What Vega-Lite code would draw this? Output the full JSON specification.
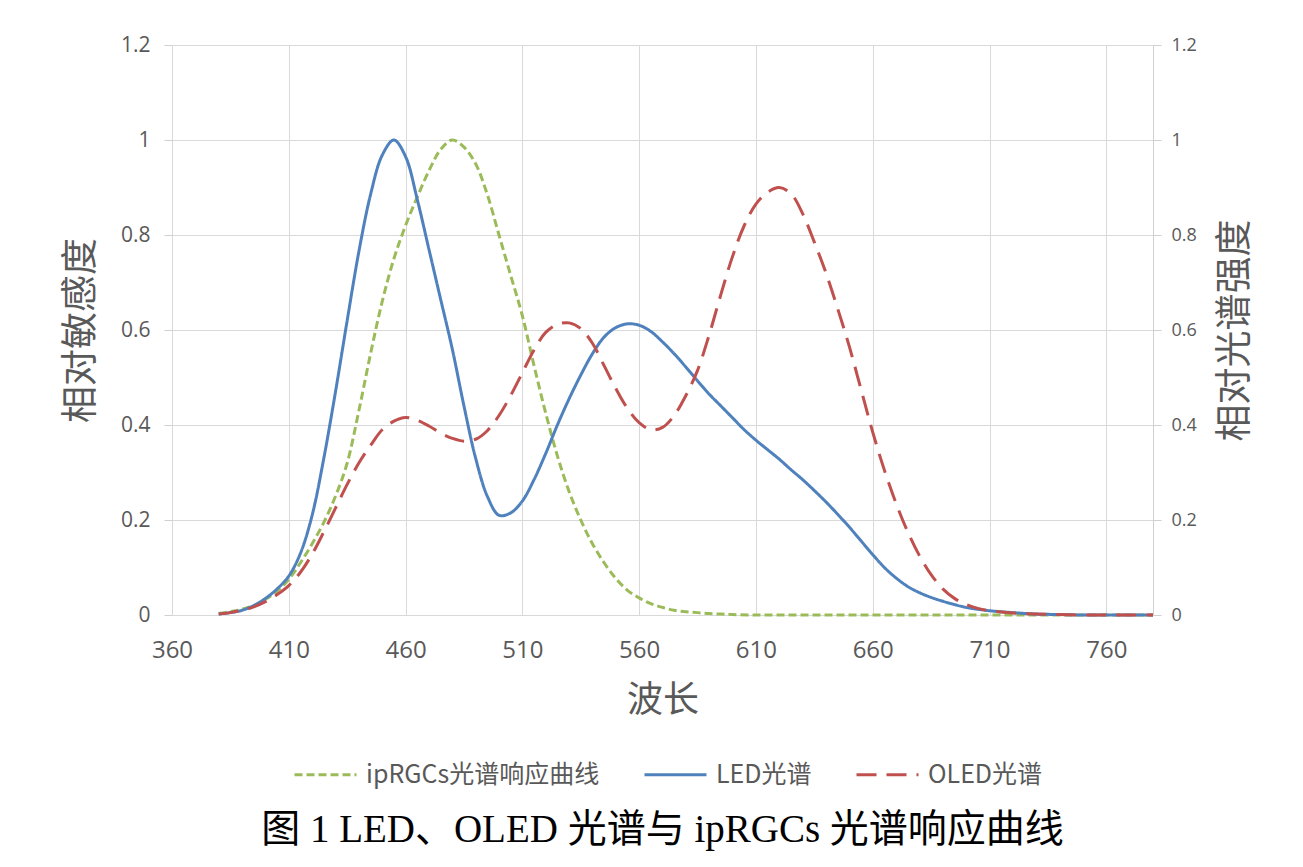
{
  "$schema": "https://vega.github.io/schema/vega-lite/v6.json",
  "width": 981,
  "height": 570,
  "autosize": {"type": "none"},
  "padding": {"left": 172, "top": 45, "right": 150, "bottom": 252},
  "background": "white",
  "config": {
    "view": {"stroke": null},
    "axis": {"labelColor": "#595959", "titleColor": "#595959", "gridColor": "#d9d9d9", "gridWidth": 1, "tickColor": "#d0d0d0", "domainColor": "#d0d0d0", "labelFont": "Open Sans", "titleFont": "Noto Sans CJK SC", "titleFontWeight": "normal", "labelFlush": false, "labelOverlap": false},
    "legend": {"labelFont": "Noto Sans CJK SC", "labelColor": "#595959"}
  },
  "title": {
    "text": "图 1 LED、OLED 光谱与 ipRGCs 光谱响应曲线",
    "orient": "bottom",
    "anchor": "middle",
    "font": "Liberation Serif, Noto Sans CJK SC",
    "fontSize": 39,
    "fontWeight": "normal",
    "color": "#000000",
    "offset": 23
  },
  "data": {"values": [
    {"wl":380,"s":"ipRGCs光谱响应曲线","v":0.003},{"wl":385,"s":"ipRGCs光谱响应曲线","v":0.007},{"wl":390,"s":"ipRGCs光谱响应曲线","v":0.012},{"wl":395,"s":"ipRGCs光谱响应曲线","v":0.02},{"wl":400,"s":"ipRGCs光谱响应曲线","v":0.033},{"wl":405,"s":"ipRGCs光谱响应曲线","v":0.05},{"wl":410,"s":"ipRGCs光谱响应曲线","v":0.075},{"wl":415,"s":"ipRGCs光谱响应曲线","v":0.11},{"wl":420,"s":"ipRGCs光谱响应曲线","v":0.15},{"wl":425,"s":"ipRGCs光谱响应曲线","v":0.195},{"wl":430,"s":"ipRGCs光谱响应曲线","v":0.25},{"wl":435,"s":"ipRGCs光谱响应曲线","v":0.32},{"wl":440,"s":"ipRGCs光谱响应曲线","v":0.43},{"wl":445,"s":"ipRGCs光谱响应曲线","v":0.55},{"wl":450,"s":"ipRGCs光谱响应曲线","v":0.66},{"wl":455,"s":"ipRGCs光谱响应曲线","v":0.75},{"wl":460,"s":"ipRGCs光谱响应曲线","v":0.82},{"wl":465,"s":"ipRGCs光谱响应曲线","v":0.88},{"wl":470,"s":"ipRGCs光谱响应曲线","v":0.935},{"wl":475,"s":"ipRGCs光谱响应曲线","v":0.98},{"wl":480,"s":"ipRGCs光谱响应曲线","v":1.0},{"wl":485,"s":"ipRGCs光谱响应曲线","v":0.985},{"wl":490,"s":"ipRGCs光谱响应曲线","v":0.95},{"wl":495,"s":"ipRGCs光谱响应曲线","v":0.885},{"wl":500,"s":"ipRGCs光谱响应曲线","v":0.8},{"wl":505,"s":"ipRGCs光谱响应曲线","v":0.715},{"wl":510,"s":"ipRGCs光谱响应曲线","v":0.63},{"wl":515,"s":"ipRGCs光谱响应曲线","v":0.525},{"wl":520,"s":"ipRGCs光谱响应曲线","v":0.425},{"wl":525,"s":"ipRGCs光谱响应曲线","v":0.335},{"wl":530,"s":"ipRGCs光谱响应曲线","v":0.26},{"wl":535,"s":"ipRGCs光谱响应曲线","v":0.2},{"wl":540,"s":"ipRGCs光谱响应曲线","v":0.15},{"wl":545,"s":"ipRGCs光谱响应曲线","v":0.11},{"wl":550,"s":"ipRGCs光谱响应曲线","v":0.077},{"wl":555,"s":"ipRGCs光谱响应曲线","v":0.052},{"wl":560,"s":"ipRGCs光谱响应曲线","v":0.036},{"wl":565,"s":"ipRGCs光谱响应曲线","v":0.024},{"wl":570,"s":"ipRGCs光谱响应曲线","v":0.016},{"wl":575,"s":"ipRGCs光谱响应曲线","v":0.01},{"wl":580,"s":"ipRGCs光谱响应曲线","v":0.007},{"wl":585,"s":"ipRGCs光谱响应曲线","v":0.005},{"wl":590,"s":"ipRGCs光谱响应曲线","v":0.003},{"wl":595,"s":"ipRGCs光谱响应曲线","v":0.002},{"wl":600,"s":"ipRGCs光谱响应曲线","v":0.001},{"wl":610,"s":"ipRGCs光谱响应曲线","v":0},{"wl":620,"s":"ipRGCs光谱响应曲线","v":0},{"wl":630,"s":"ipRGCs光谱响应曲线","v":0},{"wl":640,"s":"ipRGCs光谱响应曲线","v":0},{"wl":650,"s":"ipRGCs光谱响应曲线","v":0},{"wl":660,"s":"ipRGCs光谱响应曲线","v":0},{"wl":670,"s":"ipRGCs光谱响应曲线","v":0},{"wl":680,"s":"ipRGCs光谱响应曲线","v":0},{"wl":690,"s":"ipRGCs光谱响应曲线","v":0},{"wl":700,"s":"ipRGCs光谱响应曲线","v":0},{"wl":710,"s":"ipRGCs光谱响应曲线","v":0},{"wl":720,"s":"ipRGCs光谱响应曲线","v":0},{"wl":730,"s":"ipRGCs光谱响应曲线","v":0},{"wl":740,"s":"ipRGCs光谱响应曲线","v":0},{"wl":750,"s":"ipRGCs光谱响应曲线","v":0},{"wl":760,"s":"ipRGCs光谱响应曲线","v":0},{"wl":770,"s":"ipRGCs光谱响应曲线","v":0},{"wl":780,"s":"ipRGCs光谱响应曲线","v":0},

    {"wl":380,"s":"LED光谱","v":0.002},{"wl":385,"s":"LED光谱","v":0.005},{"wl":390,"s":"LED光谱","v":0.01},{"wl":395,"s":"LED光谱","v":0.02},{"wl":400,"s":"LED光谱","v":0.035},{"wl":405,"s":"LED光谱","v":0.055},{"wl":410,"s":"LED光谱","v":0.082},{"wl":415,"s":"LED光谱","v":0.13},{"wl":420,"s":"LED光谱","v":0.21},{"wl":425,"s":"LED光谱","v":0.33},{"wl":430,"s":"LED光谱","v":0.47},{"wl":435,"s":"LED光谱","v":0.62},{"wl":440,"s":"LED光谱","v":0.765},{"wl":445,"s":"LED光谱","v":0.885},{"wl":450,"s":"LED光谱","v":0.968},{"wl":455,"s":"LED光谱","v":1.0},{"wl":460,"s":"LED光谱","v":0.965},{"wl":465,"s":"LED光谱","v":0.875},{"wl":470,"s":"LED光谱","v":0.77},{"wl":475,"s":"LED光谱","v":0.665},{"wl":480,"s":"LED光谱","v":0.56},{"wl":485,"s":"LED光谱","v":0.44},{"wl":490,"s":"LED光谱","v":0.33},{"wl":495,"s":"LED光谱","v":0.25},{"wl":500,"s":"LED光谱","v":0.21},{"wl":505,"s":"LED光谱","v":0.215},{"wl":510,"s":"LED光谱","v":0.24},{"wl":515,"s":"LED光谱","v":0.285},{"wl":520,"s":"LED光谱","v":0.34},{"wl":525,"s":"LED光谱","v":0.4},{"wl":530,"s":"LED光谱","v":0.455},{"wl":535,"s":"LED光谱","v":0.505},{"wl":540,"s":"LED光谱","v":0.55},{"wl":545,"s":"LED光谱","v":0.585},{"wl":550,"s":"LED光谱","v":0.605},{"wl":555,"s":"LED光谱","v":0.613},{"wl":560,"s":"LED光谱","v":0.61},{"wl":565,"s":"LED光谱","v":0.597},{"wl":570,"s":"LED光谱","v":0.575},{"wl":575,"s":"LED光谱","v":0.55},{"wl":580,"s":"LED光谱","v":0.522},{"wl":585,"s":"LED光谱","v":0.493},{"wl":590,"s":"LED光谱","v":0.465},{"wl":595,"s":"LED光谱","v":0.44},{"wl":600,"s":"LED光谱","v":0.415},{"wl":605,"s":"LED光谱","v":0.39},{"wl":610,"s":"LED光谱","v":0.368},{"wl":615,"s":"LED光谱","v":0.348},{"wl":620,"s":"LED光谱","v":0.328},{"wl":625,"s":"LED光谱","v":0.306},{"wl":630,"s":"LED光谱","v":0.285},{"wl":635,"s":"LED光谱","v":0.262},{"wl":640,"s":"LED光谱","v":0.238},{"wl":645,"s":"LED光谱","v":0.212},{"wl":650,"s":"LED光谱","v":0.185},{"wl":655,"s":"LED光谱","v":0.156},{"wl":660,"s":"LED光谱","v":0.127},{"wl":665,"s":"LED光谱","v":0.1},{"wl":670,"s":"LED光谱","v":0.078},{"wl":675,"s":"LED光谱","v":0.06},{"wl":680,"s":"LED光谱","v":0.047},{"wl":685,"s":"LED光谱","v":0.037},{"wl":690,"s":"LED光谱","v":0.029},{"wl":695,"s":"LED光谱","v":0.022},{"wl":700,"s":"LED光谱","v":0.016},{"wl":705,"s":"LED光谱","v":0.012},{"wl":710,"s":"LED光谱","v":0.009},{"wl":720,"s":"LED光谱","v":0.005},{"wl":730,"s":"LED光谱","v":0.002},{"wl":740,"s":"LED光谱","v":0.001},{"wl":750,"s":"LED光谱","v":0},{"wl":760,"s":"LED光谱","v":0},{"wl":770,"s":"LED光谱","v":0},{"wl":780,"s":"LED光谱","v":0},

    {"wl":380,"s":"OLED光谱","v":0.002},{"wl":385,"s":"OLED光谱","v":0.005},{"wl":390,"s":"OLED光谱","v":0.01},{"wl":395,"s":"OLED光谱","v":0.017},{"wl":400,"s":"OLED光谱","v":0.028},{"wl":405,"s":"OLED光谱","v":0.043},{"wl":410,"s":"OLED光谱","v":0.062},{"wl":415,"s":"OLED光谱","v":0.09},{"wl":420,"s":"OLED光谱","v":0.128},{"wl":425,"s":"OLED光谱","v":0.175},{"wl":430,"s":"OLED光谱","v":0.225},{"wl":435,"s":"OLED光谱","v":0.275},{"wl":440,"s":"OLED光谱","v":0.32},{"wl":445,"s":"OLED光谱","v":0.357},{"wl":450,"s":"OLED光谱","v":0.39},{"wl":455,"s":"OLED光谱","v":0.408},{"wl":460,"s":"OLED光谱","v":0.416},{"wl":465,"s":"OLED光谱","v":0.41},{"wl":470,"s":"OLED光谱","v":0.398},{"wl":475,"s":"OLED光谱","v":0.383},{"wl":480,"s":"OLED光谱","v":0.372},{"wl":485,"s":"OLED光谱","v":0.366},{"wl":490,"s":"OLED光谱","v":0.37},{"wl":495,"s":"OLED光谱","v":0.388},{"wl":500,"s":"OLED光谱","v":0.42},{"wl":505,"s":"OLED光谱","v":0.462},{"wl":510,"s":"OLED光谱","v":0.51},{"wl":515,"s":"OLED光谱","v":0.558},{"wl":520,"s":"OLED光谱","v":0.595},{"wl":525,"s":"OLED光谱","v":0.612},{"wl":530,"s":"OLED光谱","v":0.615},{"wl":535,"s":"OLED光谱","v":0.603},{"wl":540,"s":"OLED光谱","v":0.572},{"wl":545,"s":"OLED光谱","v":0.525},{"wl":550,"s":"OLED光谱","v":0.477},{"wl":555,"s":"OLED光谱","v":0.435},{"wl":560,"s":"OLED光谱","v":0.405},{"wl":565,"s":"OLED光谱","v":0.39},{"wl":570,"s":"OLED光谱","v":0.395},{"wl":575,"s":"OLED光谱","v":0.42},{"wl":580,"s":"OLED光谱","v":0.462},{"wl":585,"s":"OLED光谱","v":0.515},{"wl":590,"s":"OLED光谱","v":0.59},{"wl":595,"s":"OLED光谱","v":0.675},{"wl":600,"s":"OLED光谱","v":0.755},{"wl":605,"s":"OLED光谱","v":0.82},{"wl":610,"s":"OLED光谱","v":0.865},{"wl":615,"s":"OLED光谱","v":0.89},{"wl":620,"s":"OLED光谱","v":0.9},{"wl":625,"s":"OLED光谱","v":0.887},{"wl":630,"s":"OLED光谱","v":0.845},{"wl":635,"s":"OLED光谱","v":0.785},{"wl":640,"s":"OLED光谱","v":0.72},{"wl":645,"s":"OLED光谱","v":0.645},{"wl":650,"s":"OLED光谱","v":0.565},{"wl":655,"s":"OLED光谱","v":0.475},{"wl":660,"s":"OLED光谱","v":0.385},{"wl":665,"s":"OLED光谱","v":0.305},{"wl":670,"s":"OLED光谱","v":0.235},{"wl":675,"s":"OLED光谱","v":0.175},{"wl":680,"s":"OLED光谱","v":0.125},{"wl":685,"s":"OLED光谱","v":0.085},{"wl":690,"s":"OLED光谱","v":0.055},{"wl":695,"s":"OLED光谱","v":0.035},{"wl":700,"s":"OLED光谱","v":0.022},{"wl":705,"s":"OLED光谱","v":0.014},{"wl":710,"s":"OLED光谱","v":0.009},{"wl":720,"s":"OLED光谱","v":0.004},{"wl":730,"s":"OLED光谱","v":0.002},{"wl":740,"s":"OLED光谱","v":0.001},{"wl":750,"s":"OLED光谱","v":0},{"wl":760,"s":"OLED光谱","v":0},{"wl":770,"s":"OLED光谱","v":0},{"wl":780,"s":"OLED光谱","v":0}
  ]},
  "layer": [
    {
      "transform": [{"filter": "datum.s === 'ipRGCs光谱响应曲线'"}],
      "mark": {"type": "line", "interpolate": "catmull-rom", "strokeWidth": 3},
      "encoding": {
        "x": {"field": "wl", "type": "quantitative", "scale": {"domain": [360, 780], "nice": false, "zero": false},
          "axis": {"values": [360, 410, 460, 510, 560, 610, 660, 710, 760], "title": "波长", "titleFontSize": 36, "titlePadding": 21, "labelFontSize": 24, "labelPadding": 23, "ticks": false, "domain": false, "grid": true}},
        "y": {"field": "v", "type": "quantitative", "scale": {"domain": [0, 1.2], "nice": false},
          "axis": {"orient": "left", "values": [0, 0.2, 0.4, 0.6, 0.8, 1, 1.2], "format": "~g", "title": "相对敏感度", "titleFontSize": 37, "titlePadding": 20, "labelFontSize": 21, "labelPadding": 14, "tickSize": 8, "domain": false, "grid": true}},
        "color": {"field": "s", "type": "nominal", "scale": {"domain": ["ipRGCs光谱响应曲线", "LED光谱", "OLED光谱"], "range": ["#9BBB59", "#4F81BD", "#C0504D"]},
          "legend": {"title": null, "orient": "none", "direction": "horizontal", "legendX": 121, "legendY": 697, "symbolType": "stroke", "symbolSize": 3844, "symbolStrokeWidth": 3, "labelFontSize": 25, "labelOffset": 8, "labelLimit": 400, "columnPadding": 38, "padding": 0}},
        "strokeDash": {"field": "s", "type": "nominal", "scale": {"domain": ["ipRGCs光谱响应曲线", "LED光谱", "OLED光谱"], "range": [[8, 4], [1, 0], [20, 10]]},
          "legend": {"title": null, "orient": "none", "direction": "horizontal", "legendX": 121, "legendY": 697, "symbolType": "stroke", "symbolSize": 3844, "symbolStrokeWidth": 3, "labelFontSize": 25, "labelOffset": 8, "labelLimit": 400, "columnPadding": 38, "padding": 0}}
      }
    },
    {
      "transform": [{"filter": "datum.s !== 'ipRGCs光谱响应曲线'"}],
      "mark": {"type": "line", "interpolate": "catmull-rom", "strokeWidth": 3},
      "encoding": {
        "x": {"field": "wl", "type": "quantitative"},
        "y": {"field": "v", "type": "quantitative", "scale": {"domain": [0, 1.2], "nice": false},
          "axis": {"orient": "right", "values": [0, 0.2, 0.4, 0.6, 0.8, 1, 1.2], "format": "~g", "title": "相对光谱强度", "titleAngle": 270, "titleFontSize": 37, "titlePadding": 58, "labelFontSize": 18, "labelPadding": 10, "tickSize": 8, "domain": true, "grid": false}},
        "color": {"field": "s", "type": "nominal"},
        "strokeDash": {"field": "s", "type": "nominal"}
      }
    }
  ],
  "resolve": {"scale": {"y": "independent"}}
}
